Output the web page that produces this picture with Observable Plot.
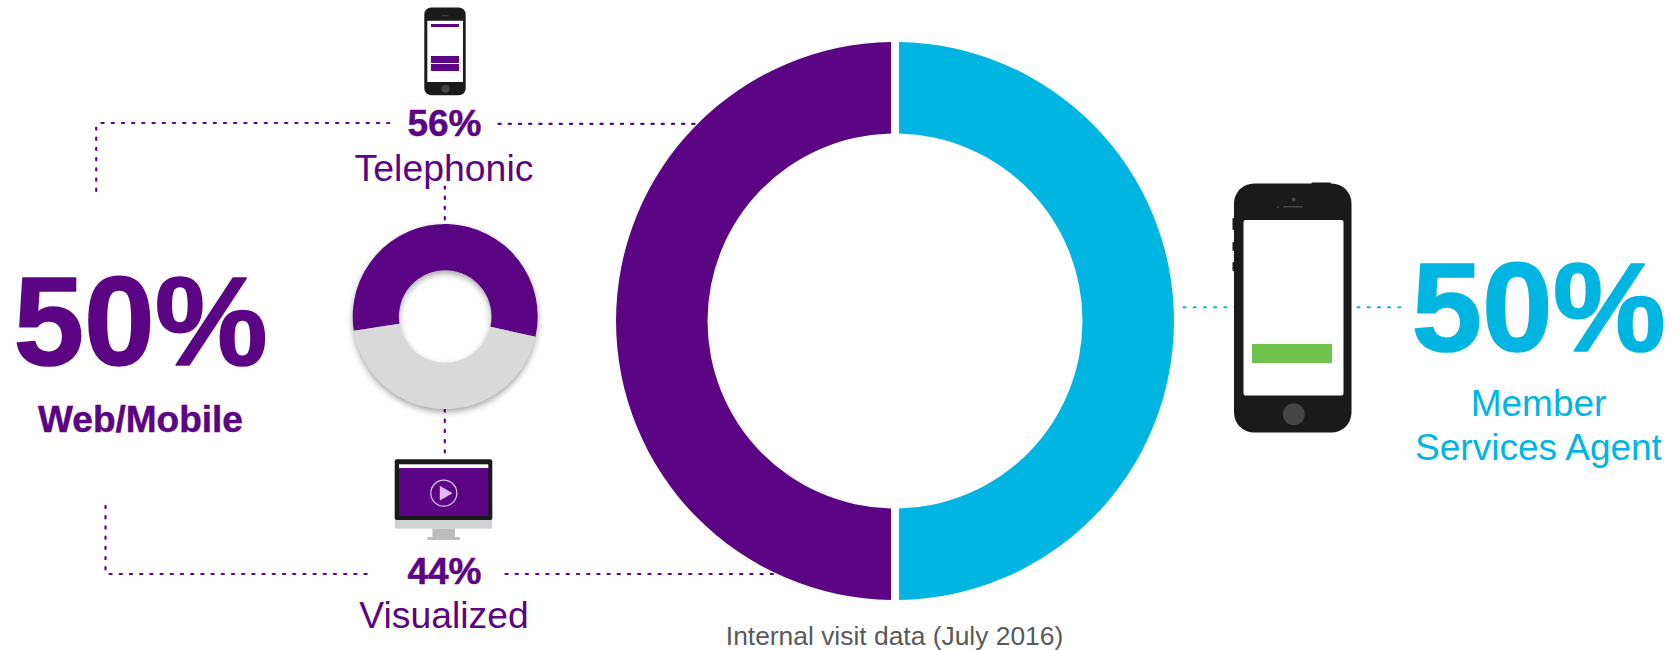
<!DOCTYPE html>
<html>
<head>
<meta charset="utf-8">
<title>Internal visit data (July 2016)</title>
<script src="https://cdn.jsdelivr.net/npm/d3@7"></script>
<script src="https://cdn.jsdelivr.net/npm/@observablehq/plot@0.6"></script>
<style>
  html, body { margin: 0; background: #fff; }
</style>
</head>
<body>
<div id="chart"></div>
<script>
// Visit data
const channels = ["Web/Mobile", "Member Services Agent"];
const channelShare = [50, 50];
const modes = ["Telephonic", "Visualized"];
const modeShare = [56, 44];
const caption = "Internal visit data (July 2016)";

// Palette
const purple = "#5B0584";
const cyan = "#00B5E2";
const ringGrey = "#D9D9D9";
const phoneBlack = "#1A1A1A";
const phoneGrey = "#454545";
const font = "Liberation Sans, Arial, sans-serif";

// A donut drawn from shares, placed through the plot's x and y scales.
function ring({values, colors, cx, cy, outer, inner, start = 0, gap = 0, shadow = null}) {
  return (index, scales) => {
    const slices = d3.pie().sort(null).startAngle(start).endAngle(start + 2 * Math.PI)(values);
    const arc = d3.arc().innerRadius(inner).outerRadius(outer);
    if (gap) arc.padRadius(outer).padAngle(gap / outer);
    const g = d3.create("svg:g")
      .attr("transform", `translate(${scales.x(cx)},${scales.y(cy)})`);
    if (shadow) g.style("filter", shadow);
    g.selectAll("path").data(slices).join("path")
      .attr("d", d => arc({...d, padAngle: 0}))
      .attr("fill", (d, i) => colors[i]);
    return g.node();
  };
}

// Dotted connector through a list of [x, y] corners.
const dotted = (points, color, width = 2.2, dash = "2.2 8") =>
  Plot.line(points, {x: d => d[0], y: d => d[1], stroke: color, strokeWidth: width,
    strokeDasharray: dash, strokeLinejoin: "miter", curve: "linear"});

const box = (x1, x2, y1, y2, fill, rx = 0) =>
  Plot.rect([0], {x1: () => x1, x2: () => x2, y1: () => y1, y2: () => y2, fill, rx});

const spot = (x, y, r, fill, extra = {}) =>
  Plot.dot([0], {x: () => x, y: () => y, r, fill, stroke: "none", ...extra});

// Bold labels get a hairline stroke in their own colour for a heavier weight.
const label = (text, x, y, size, fill, weight = "normal", heavy = 0) =>
  Plot.text([text], {x: () => x, y: () => y, text: d => d, fontSize: size, fontWeight: weight,
    fontFamily: font, fill, textAnchor: "middle", lineAnchor: "bottom",
    ...(heavy ? {stroke: fill, strokeWidth: heavy} : {})});

// Large handset with a green call button
const agentPhone = [
  box(1232.5, 1236, 218, 230, phoneBlack, 1),
  box(1232.5, 1236, 242, 251, phoneBlack, 1),
  box(1232.5, 1236, 262, 271, phoneBlack, 1),
  box(1311.5, 1331, 182.5, 186, phoneBlack, 1),
  box(1234, 1351.5, 183.5, 432.5, phoneBlack, 20),
  box(1243.5, 1343.5, 220, 395.5, "#fff", 2),
  box(1252, 1332, 344, 363, "#6FC24B"),
  spot(1293.3, 413.7, 11, phoneGrey),
  spot(1293.3, 199, 2, phoneGrey),
  box(1283, 1303, 206, 207.6, phoneGrey, 0.8),
  spot(1277.3, 206.8, 1, phoneGrey)
];

// Small handset above the telephonic figure
const smallPhone = [
  box(424.3, 465.7, 7.5, 95.3, phoneBlack, 7),
  box(427.3, 463, 20.7, 82, "#fff", 0.5),
  box(431, 459, 24, 27, purple),
  box(431, 459, 56, 63, purple),
  box(431, 459, 64, 71, purple),
  spot(445, 88.3, 4, phoneGrey),
  box(441.7, 448.7, 15.3, 16.2, phoneGrey)
];

// Desktop monitor above the visualized figure
const monitor = [
  box(394.7, 492.3, 510, 528.7, "#D1D2D4", 2),
  box(432.5, 455, 528.7, 537, "#BCBCBC"),
  box(427.3, 460, 537, 540, "#BCBCBC", 1),
  box(394.7, 492.3, 459.3, 520, phoneBlack, 2),
  box(399, 488.3, 464.3, 468, "#fff"),
  box(399, 488.3, 468, 516, purple),
  spot(443.3, 492.7, 13, "none", {stroke: "#E3C6F2", strokeWidth: 1.2}),
  spot(443.6, 492.7, 5.5, "#E3B5F7", {symbol: "triangle", rotate: 90})
];

const chart = Plot.plot({
  width: 1677,
  height: 650,
  margin: 0,
  x: {domain: [0, 1677], range: [0, 1677], axis: null},
  y: {domain: [0, 650], range: [0, 650], axis: null},
  marks: [
    // Connectors sit under the rings and icons
    dotted([[101, 122.5], [390, 122.5]], purple),
    dotted([[498, 123.4], [696, 123.4]], purple),
    dotted([[95.7, 127], [95.7, 192]], purple),
    dotted([[105, 505.5], [105, 570]], purple),
    dotted([[109, 573.5], [368, 573.5]], purple),
    dotted([[505, 573.5], [776, 573.5]], purple),
    dotted([[444.3, 186], [444.3, 219]], purple),
    dotted([[444.3, 409], [444.3, 452]], purple),
    dotted([[1183, 306.7], [1236, 306.7]], cyan, 2, "2 8.2"),
    dotted([[1357, 306.7], [1401, 306.7]], cyan, 2, "2 8.2"),

    // Big split: web/mobile on the left, member services on the right
    ring({values: [channelShare[1], channelShare[0]], colors: [cyan, purple],
          cx: 895, cy: 321, outer: 279, inner: 187.5, gap: 8}),

    // Small split: telephonic against visualized
    ring({values: modeShare, colors: [purple, ringGrey],
          cx: 445.2, cy: 316.5, outer: 92.5, inner: 46.3, start: -98.9 * Math.PI / 180,
          shadow: "drop-shadow(0 3px 3px rgba(0,0,0,.35))"}),

    ...agentPhone,
    ...smallPhone,
    ...monitor,

    label(`${channelShare[0]}%`, 140, 364.5, 127, purple, "bold", 1.6),
    label(channels[0], 140, 431, 37, purple, "bold", 0.5),
    label(`${modeShare[0]}%`, 444, 135.5, 37, purple, "bold", 0.5),
    label(modes[0], 443.5, 180, 37.4, purple),
    label(`${modeShare[1]}%`, 444, 583, 37, purple, "bold", 0.5),
    label(modes[1], 443.5, 627, 37.3, purple),
    label(`${channelShare[1]}%`, 1538, 350, 127, cyan, "bold", 1.6),
    label("Member", 1538, 415, 37, cyan),
    label("Services Agent", 1538, 459.5, 37, cyan),
    label(caption, 894, 644.5, 26.4, "#595959")
  ]
});

document.getElementById("chart").append(chart);
</script>
</body>
</html>
